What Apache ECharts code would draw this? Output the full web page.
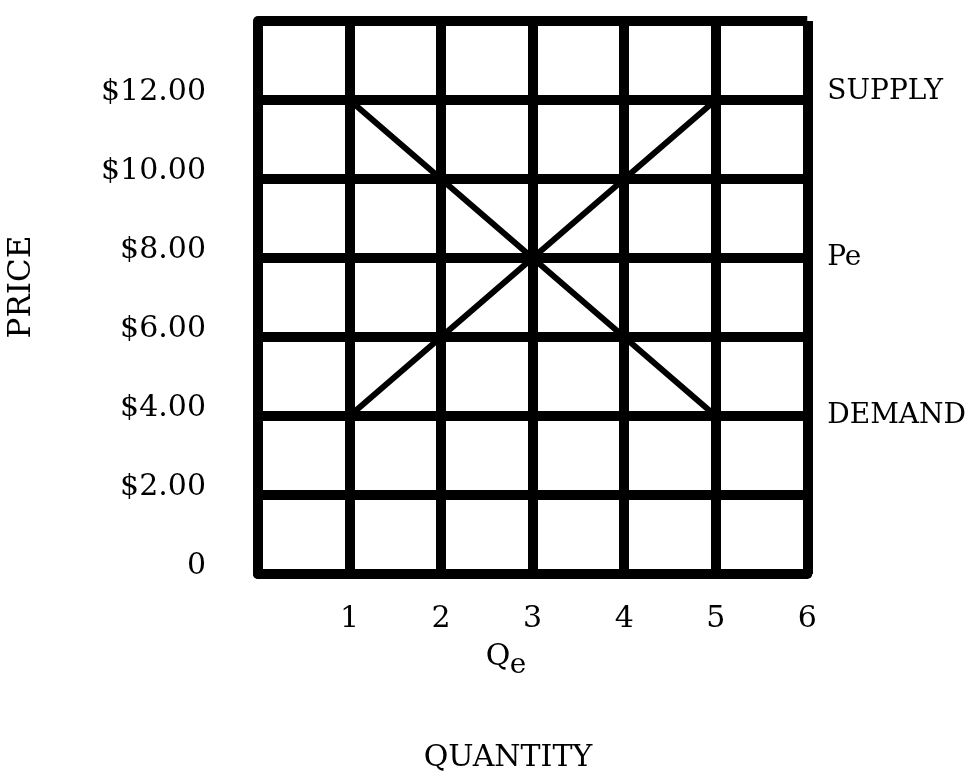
<!DOCTYPE html>
<html>
<head>
<meta charset="utf-8">
<title>Supply and demand</title>
<script src="https://cdn.jsdelivr.net/npm/echarts@6/dist/echarts.min.js"></script>
<style>
  html, body { margin: 0; padding: 0; background: #fff; }
  #container { width: 969px; height: 776px; }
</style>
</head>
<body>
<div id="container"></div>
<script type="text/javascript">
// data
var quantity = [1, 2, 3, 4, 5];
var supplyPrice = [4, 6, 8, 10, 12];
var demandPrice = [12, 10, 8, 6, 4];

// tick labels
var priceTicks = [0, 2, 4, 6, 8, 10, 12, 14];
var priceLabels = ['0', '$2.00', '$4.00', '$6.00', '$8.00', '$10.00', '$12.00', ''];
var qtyTicks = [0, 1, 2, 3, 4, 5, 6];
var qtyLabels = ['', '1', '2', '3', '4', '5', '6'];
var sideTicks = [4, 8, 12];
var sideLabels = ['DEMAND', 'Pe', 'SUPPLY'];

var FONT = '"DejaVu Serif", "Liberation Serif", serif';

function pairs(xs, ys) {
    var out = [];
    for (var i = 0; i < xs.length; i++) out.push([xs[i], ys[i]]);
    return out;
}

var mychart = echarts.init(document.getElementById('container'), null, { renderer: 'canvas' });

var option = {
    backgroundColor: '#fff',
    animation: false,
    textStyle: { fontFamily: FONT, color: '#000' },
    grid: { left: 258, right: 149, top: 21, bottom: 202 },
    xAxis: {
        type: 'value',
        min: 0,
        max: 6,
        interval: 1,
        axisLine: { show: true, lineStyle: { color: '#000', width: 10 } },
        axisTick: { show: false },
        splitLine: { show: true, lineStyle: { color: '#000', width: 10 } },
        axisLabel: {
            margin: 30,
            fontSize: 30,
            fontFamily: FONT,
            color: '#000',
            formatter: function (v) {
                var i = qtyTicks.indexOf(v);
                return i < 0 ? '' : qtyLabels[i];
            }
        }
    },
    yAxis: [{
        type: 'value',
        position: 'left',
        min: 0,
        max: 14,
        interval: 2,
        axisLine: { show: true, lineStyle: { color: '#000', width: 10 } },
        axisTick: { show: false },
        splitLine: { show: true, lineStyle: { color: '#000', width: 10 } },
        axisLabel: {
            margin: 52,
            fontSize: 30,
            fontFamily: FONT,
            color: '#000',
            verticalAlign: 'bottom',
            lineHeight: 16,
            formatter: function (v) {
                var i = priceTicks.indexOf(v);
                return i < 0 ? '' : priceLabels[i];
            }
        }
    }, {
        type: 'value',
        position: 'right',
        min: 0,
        max: 14,
        interval: 2,
        axisLine: { show: false },
        axisTick: { show: false },
        splitLine: { show: false },
        axisLabel: {
            margin: 20,
            fontSize: 28,
            fontFamily: FONT,
            color: '#000',
            formatter: function (v) {
                var i = sideTicks.indexOf(v);
                if (i < 0) return '';
                return v === 12 ? '{up|' + sideLabels[i] + '}' : sideLabels[i];
            },
            rich: {
                up: { fontSize: 28, fontFamily: FONT, color: '#000', padding: [0, 0, 16, 0] }
            }
        }
    }],
    series: [{
        name: 'supply',
        type: 'line',
        data: pairs(quantity, supplyPrice),
        symbol: 'circle',
        symbolSize: 10,
        itemStyle: { color: '#000' },
        lineStyle: { color: '#000', width: 6 },
        silent: true,
        z: 3
    }, {
        name: 'demand',
        type: 'line',
        data: pairs(quantity, demandPrice),
        symbol: 'circle',
        symbolSize: 10,
        itemStyle: { color: '#000' },
        lineStyle: { color: '#000', width: 6 },
        silent: true,
        z: 3
    }],
    graphic: [{
        type: 'text',
        x: 22,
        y: 287,
        rotation: Math.PI / 2,
        style: {
            text: 'PRICE',
            font: '31px ' + FONT,
            fill: '#000',
            align: 'center',
            verticalAlign: 'middle'
        }
    }, {
        type: 'text',
        x: 498,
        y: 657,
        style: {
            text: 'Q',
            font: '30px ' + FONT,
            fill: '#000',
            align: 'center',
            verticalAlign: 'middle'
        }
    }, {
        type: 'text',
        x: 518,
        y: 666,
        style: {
            text: 'e',
            font: '28px ' + FONT,
            fill: '#000',
            align: 'center',
            verticalAlign: 'middle'
        }
    }, {
        type: 'text',
        x: 508,
        y: 758,
        style: {
            text: 'QUANTITY',
            font: '30px ' + FONT,
            fill: '#000',
            align: 'center',
            verticalAlign: 'middle'
        }
    }]
};

mychart.setOption(option);
</script>
</body>
</html>
